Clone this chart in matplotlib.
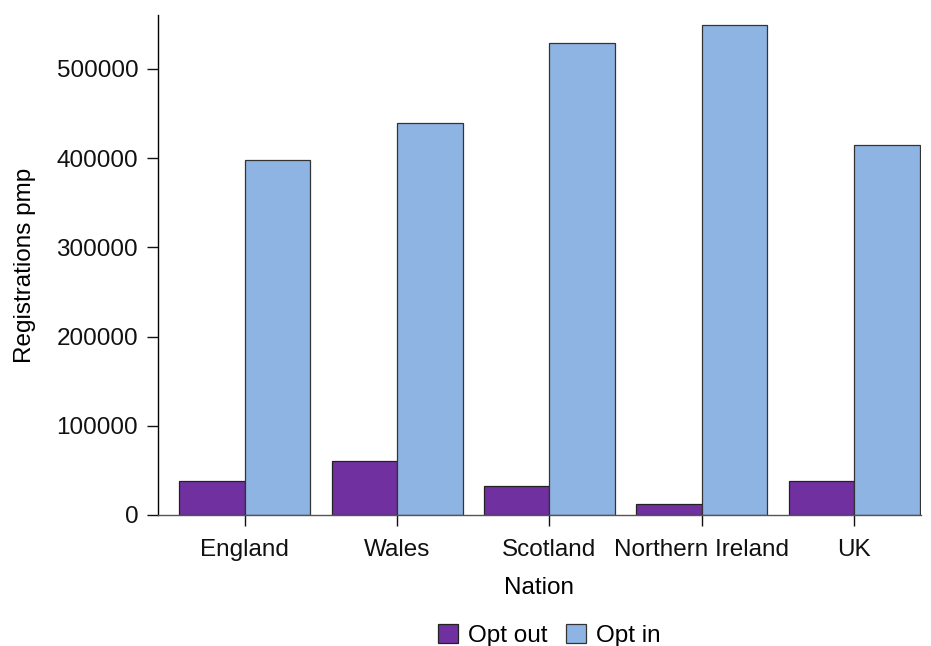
import numpy as np
import matplotlib.pyplot as plt

plt.rcParams['font.family'] = ['Liberation Sans', 'DejaVu Sans']

# donnees
nations = ["England", "Wales", "Scotland", "Northern Ireland", "UK"]
opt_out = [38100, 60500, 33000, 12000, 38100]
opt_in = [398500, 439700, 529400, 548800, 414600]

couleur_out = "#7030A0"
couleur_in = "#8EB4E3"

fig = plt.figure(figsize=(9.31, 6.46), dpi=100)
ax = fig.add_axes([0.1693, 0.2028, 0.8197, 0.774])

x = np.arange(len(nations))
w = 0.43
ax.bar(x - w / 2, opt_out, width=w, color=couleur_out, edgecolor="#222222",
       linewidth=0.9, label="Opt out")
ax.bar(x + w / 2, opt_in, width=w, color=couleur_in, edgecolor="#333333",
       linewidth=0.9, label="Opt in")

ax.set_xlim(-0.572, 4.437)
ax.set_ylim(0, 560500)
ax.set_xticks(x)
ax.set_xticklabels(nations)
ax.set_yticks([0, 100000, 200000, 300000, 400000, 500000])
ax.set_yticklabels(["0", "100000", "200000", "300000", "400000", "500000"])

for s in ["top", "right"]:
    ax.spines[s].set_visible(False)
ax.spines["left"].set_linewidth(1.0)
ax.spines["bottom"].set_linewidth(1.0)
ax.spines["bottom"].set_color("#555555")
ax.tick_params(axis="both", length=8, width=1.0, labelsize=17.5, colors="#111111")
ax.tick_params(axis="y", pad=6)
ax.tick_params(axis="x", pad=9)

ax.set_xlabel("Nation", fontsize=17.5, labelpad=12)
ax.set_ylabel("Registrations pmp", fontsize=17.5, labelpad=15)

fig.legend(*ax.get_legend_handles_labels(), loc="center",
           bbox_to_anchor=(0.59, 0.016), ncol=2, frameon=False,
           fontsize=17.5, handlelength=0.8, handleheight=0.8, handletextpad=0.4,
           columnspacing=0.8)

fig.savefig("out.png", dpi=100)
